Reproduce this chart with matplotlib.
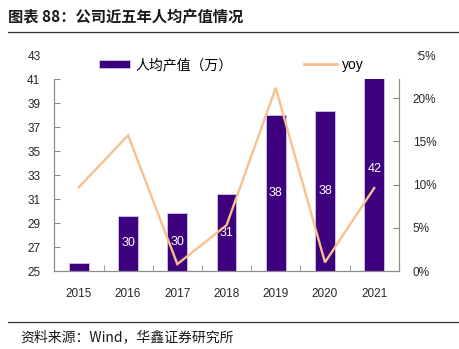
import matplotlib
matplotlib.use("Agg")
import matplotlib.pyplot as plt
from matplotlib.lines import Line2D
from matplotlib.patches import Rectangle
from matplotlib.ticker import FixedLocator

plt.rcParams['font.family'] = ['Liberation Sans', 'Noto Sans CJK SC', 'DejaVu Sans']

years = ['2015', '2016', '2017', '2018', '2019', '2020', '2021']
output_per_head = [25.67, 29.6, 29.83, 31.4, 37.97, 38.3, 42.0]  # 万
yoy = [9.7, 15.7, 0.8, 5.3, 21.2, 1.0, 9.6]  # %
left_ticks = [25, 27, 29, 31, 33, 35, 37, 39, 41, 43]
right_ticks = [0, 5, 10, 15, 20, 25]

bar_color = '#3D007F'
line_color = '#F9BF8C'
spine_color = '#8C8C8C'
text_color = '#262626'
cjk = ['Noto Sans CJK SC', 'DejaVu Sans']

W, H = 460, 349
fig = plt.figure(figsize=(W / 100, H / 100), dpi=100)
ax = fig.add_axes([54.3 / W, (H - 271) / H, (398.8 - 54.3) / W, (271 - 55) / H])
ax2 = ax.twinx()

x = list(range(len(years)))
bars = ax.bar(x, [v - 25 for v in output_per_head], bottom=25, width=0.4,
              color=bar_color, edgecolor='#CBBDE6', linewidth=0.7, zorder=2)
labels = ['%.0f' % v if v - 25 > 2 else '' for v in output_per_head]
ax.bar_label(bars, labels=labels, label_type='center', color='white', fontsize=9)

ax2.plot(x, yoy, color=line_color, lw=1.7, solid_joinstyle='miter')

ax.set_xlim(-0.5, 6.5)
ax.set_ylim(25, 43)
ax2.set_ylim(0, 25)
ax.set_yticks(left_ticks)
ax2.set_yticks(right_ticks)
ax2.set_yticklabels(['%d%%' % t for t in right_ticks])
ax.set_xticks(x)
ax.set_xticklabels(years)
ax.xaxis.set_minor_locator(FixedLocator([i + 0.5 for i in range(6)]))

ax.tick_params(axis='x', which='major', length=0, pad=12.5, labelsize=8.5, colors=text_color)
ax.tick_params(axis='x', which='minor', direction='in', length=4, color=spine_color)
ax.tick_params(axis='y', direction='in', length=4, pad=10, labelsize=8.5,
               color=spine_color, labelcolor=text_color)
ax2.tick_params(axis='y', direction='in', length=4, pad=10, labelsize=8.5,
                color=spine_color, labelcolor=text_color)

for a in (ax, ax2):
    a.spines['top'].set_visible(False)
    for s in ('left', 'right', 'bottom'):
        a.spines[s].set_color(spine_color)
        a.spines[s].set_linewidth(0.8)

# white legend background overlapping the top of the plot area
fig.add_artist(Rectangle((43 / W, (H - 79) / H), (418 - 43) / W, 38 / H,
                         transform=fig.transFigure, facecolor='white',
                         edgecolor='none', zorder=3))

leg1 = fig.legend([bars[0]], ['人均产值（万）'], loc='center left',
                  bbox_to_anchor=(99 / W, (H - 65) / H), frameon=False,
                  borderpad=0, borderaxespad=0, handlelength=2.25,
                  handleheight=0.5, handletextpad=0.4,
                  prop={'family': cjk, 'size': 10})
leg1.set_zorder(5)
leg2 = fig.legend([Line2D([], [], color=line_color, lw=2)], ['yoy'], loc='center left',
                  bbox_to_anchor=(304 / W, (H - 65) / H), frameon=False,
                  borderpad=0, borderaxespad=0, handlelength=2.4,
                  handletextpad=0.3, prop={'size': 10})
leg2.set_zorder(5)

fig.text(8 / W, (H - 17) / H, '图表 88：公司近五年人均产值情况', family=cjk,
         fontsize=11, fontweight='bold', va='center', ha='left', color='#1a1a1a')
fig.add_artist(Line2D([8 / W, 1], [(H - 32) / H] * 2, transform=fig.transFigure,
                      color='#333333', lw=0.9))
fig.add_artist(Line2D([8 / W, 1], [(H - 322) / H] * 2, transform=fig.transFigure,
                      color='#333333', lw=0.9))
fig.text(20 / W, (H - 337) / H, '资料来源：Wind，华鑫证券研究所', family=cjk,
         fontsize=10, va='center', ha='left', color='#1a1a1a')

fig.savefig('out.png', dpi=100)
